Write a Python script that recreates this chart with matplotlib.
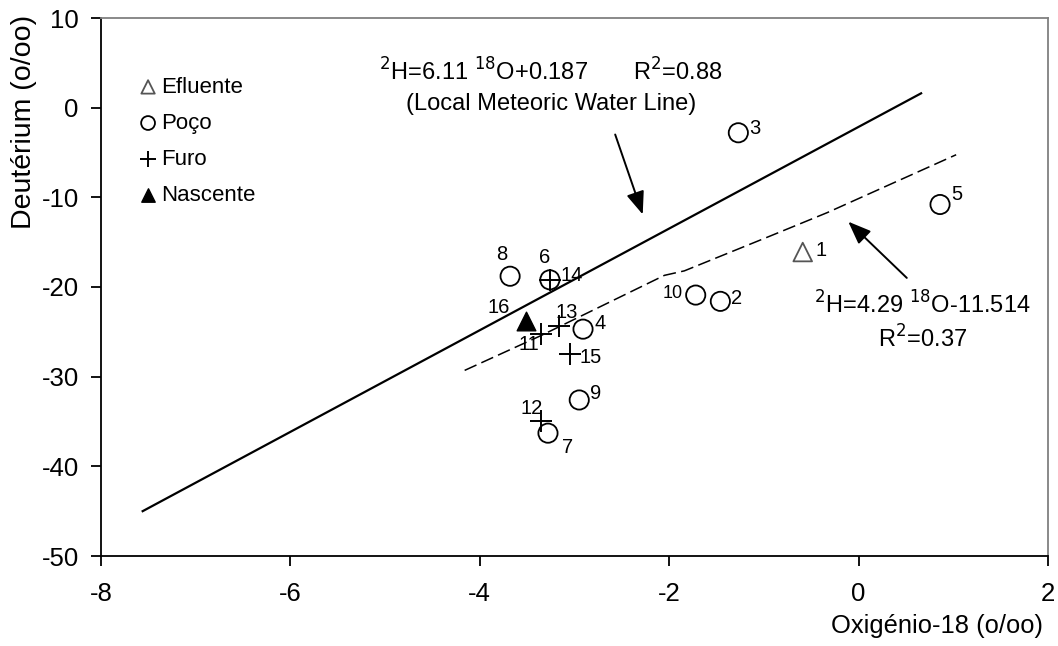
import matplotlib
matplotlib.use("Agg")
import matplotlib.pyplot as plt

plt.rcParams['font.family'] = ['Liberation Sans', 'DejaVu Sans']
plt.rcParams['axes.unicode_minus'] = False

# sample points (o/oo)
efl_x = [-0.59]
efl_y = [-16.1]
efl_lab = ['1']

poco_x = [-1.46, -1.27, -2.91, 0.86, -3.26, -3.28, -3.68, -2.95, -1.72]
poco_y = [-21.6, -2.8, -24.7, -10.8, -19.2, -36.3, -18.8, -32.6, -20.9]
poco_lab = ['2', '3', '4', '5', '6', '7', '8', '9', '10']

furo_x = [-3.35, -3.35, -3.16, -3.26, -3.05]
furo_y = [-25.2, -34.9, -24.4, -19.2, -27.5]
furo_lab = ['11', '12', '13', '14', '15']

nasc_x = [-3.51]
nasc_y = [-23.8]
nasc_lab = ['16']

# fitted lines
lmwl_x = [-7.56, 0.66]
lmwl_y = [-45.0, 1.6]
fit_x = [-4.16, -3.35, -2.05, -1.84, -0.93, -0.33, 1.03]
fit_y = [-29.3, -25.4, -18.7, -18.2, -14.3, -11.7, -5.25]

fig = plt.figure(figsize=(10.58, 6.46), dpi=100)
ax = fig.add_axes([101/1058, 1 - 556/646, 947/1058, 538/646])

ax.plot(lmwl_x, lmwl_y, color='black', lw=1.6, zorder=2)
ax.plot(fit_x, fit_y, color='black', lw=1.1, dashes=(8.5, 3.5), zorder=2)

ms = 15
ax.scatter(efl_x, efl_y, marker='^', s=ms**2 * 0.8, facecolors='none',
           edgecolors='#555555', linewidths=1.3, zorder=3, label='Efluente')
ax.scatter(poco_x, poco_y, marker='o', s=ms**2 * 0.85, facecolors='none',
           edgecolors='black', linewidths=1.3, zorder=3, label='Poço')
ax.scatter(furo_x, furo_y, marker='+', s=ms**2 * 1.1, color='black',
           linewidths=1.4, zorder=3, label='Furo')
ax.scatter(nasc_x, nasc_y, marker='^', s=ms**2 * 0.8, color='black',
           zorder=3, label='Nascente')

# point labels: offsets in points
offs = {
    '1': (9, 1, 'left', 'center'), '2': (8, 2, 'left', 'center'),
    '3': (8, 3, 'left', 'center'), '4': (8, 4, 'left', 'center'),
    '5': (8, 7, 'left', 'center'), '6': (-4, 9, 'center', 'bottom'),
    '7': (14, -10, 'center', 'center'), '8': (-6, 9, 'center', 'bottom'),
    '9': (8, 5, 'left', 'center'), '10': (-9, 1, 'right', 'center'),
    '11': (-9, -8, 'center', 'center'), '12': (-7, 9, 'center', 'center'),
    '13': (5, 10, 'center', 'center'), '14': (8, 3, 'left', 'center'),
    '15': (7, -2, 'left', 'center'), '16': (-12, 10, 'right', 'center'),
}
for xs, ys, labs in [(efl_x, efl_y, efl_lab), (poco_x, poco_y, poco_lab),
                     (furo_x, furo_y, furo_lab), (nasc_x, nasc_y, nasc_lab)]:
    for x, y, t in zip(xs, ys, labs):
        dx, dy, ha, va = offs[t]
        fs = 13 if t == '10' else 14.5
        ax.annotate(t, (x, y), xytext=(dx, dy), textcoords='offset points',
                    ha=ha, va=va, fontsize=fs)

# equation annotations
arrow = dict(arrowstyle='-|>,head_length=1.4,head_width=0.55',
             color='black', lw=1.4)
ax.annotate('', xy=(-2.27, -12.2), xytext=(-2.58, -2.7), arrowprops=arrow)
ax.text(-3.25, 4.0, r'$^{2}$H=6.11 $^{18}$O+0.187       R$^{2}$=0.88',
        ha='center', va='center', fontsize=17)
ax.text(-3.25, 0.4, '(Local Meteoric Water Line)', ha='center', va='center',
        fontsize=17)

ax.annotate('', xy=(-0.13, -12.5), xytext=(0.53, -19.2), arrowprops=arrow)
ax.text(0.67, -22.0, r'$^{2}$H=4.29 $^{18}$O-11.514', ha='center',
        va='center', fontsize=17)
ax.text(0.68, -25.8, r'R$^{2}$=0.37', ha='center', va='center', fontsize=17)

ax.set_xlim(-8, 2)
ax.set_ylim(-50, 10)
ax.set_xticks([-8, -6, -4, -2, 0, 2])
ax.set_yticks([-50, -40, -30, -20, -10, 0, 10])
ax.tick_params(direction='out', length=7, width=1.3, labelsize=18.5, pad=9)
ax.tick_params(axis='x', pad=12)
for s in ['top', 'right']:
    ax.spines[s].set_color('#808080')
    ax.spines[s].set_linewidth(1.3)
for s in ['left', 'bottom']:
    ax.spines[s].set_linewidth(1.3)

ax.set_xlabel('Oxigénio-18 (o/oo)', fontsize=18.4, loc='right')
ax.xaxis.set_label_coords(0.995, -0.107)
ax.set_ylabel('Deutérium (o/oo)', fontsize=20.5, loc='top')
ax.yaxis.set_label_coords(-0.068, 1.005)

leg = ax.legend(loc='upper left', bbox_to_anchor=(0.0145, 0.928), frameon=False,
                fontsize=16, handletextpad=0.0, labelspacing=0.68,
                handlelength=1.2, markerscale=0.72)

fig.savefig('out.png', dpi=100)
